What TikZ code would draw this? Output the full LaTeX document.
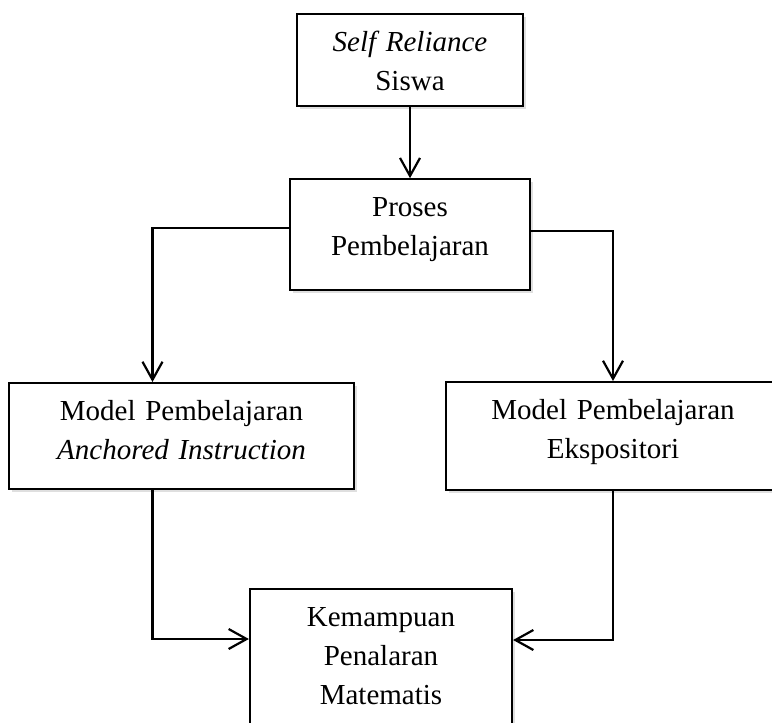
\documentclass[tikz,border=0pt]{standalone}
\usepackage{fontspec}
\setmainfont{Liberation Serif}
\usetikzlibrary{
	arrows.meta,
	positioning,
	shadows
}

\begin{document}
\begin{tikzpicture}[
				x=1pt, y=-1pt,
				stage/.style={
					rectangle, draw, line width=2.2pt, fill=white,
					drop shadow={shadow xshift=2.5pt, shadow yshift=-2.5pt, opacity=0.25},
					align=center, inner xsep=0pt, inner ysep=17pt,
					text height=20pt,
					font=\fontsize{29pt}{39pt}\selectfont
				},
				arrow/.style={-{Straight Barb[length=18pt, width=20pt]}, line width=2.2pt, black}
				]
				
				% page (right and lower boxes run off the edge)
				\clip (0,0) rectangle (772,723);
				\fill[white] (0,0) rectangle (772,723);
				
				% Self Reliance
				\node[stage, anchor=north, text width=226pt, text depth=38pt] (siswa) at (410,13)
					{\textit{Self Reliance}\\Siswa};
				
				% proses
				\node[stage, anchor=north, text width=240pt, text depth=57pt, below=71pt of siswa] (proses)
					{Proses\\Pembelajaran};
				
				% models
				\node[stage, anchor=north, text width=345pt, text depth=52pt] (anchored) at (181.5,382)
					{Model Pembelajaran\\\textit{Anchored Instruction}};
				\node[stage, anchor=north, text width=334pt, text depth=54pt] (ekspositori) at (613,381)
					{Model Pembelajaran\\Ekspositori};
				
				% result
				\node[stage, anchor=north, text width=262pt, text depth=103pt] (kemampuan) at (381,588)
					{Kemampuan\\Penalaran\\Matematis};
				
				% arrows
				\draw[arrow] (siswa.south) -- (siswa.south |- proses.north);
				\draw[arrow] ([yshift=6.5pt]proses.west) -| ([xshift=-29pt]anchored.north);
				\draw[arrow] ([yshift=3.5pt]proses.east) -| (ekspositori.north);
				\draw[arrow] ([xshift=-29pt]anchored.south) |- ([yshift=-51pt]kemampuan.north west);
				\draw[arrow] (ekspositori.south) |- ([yshift=-52pt]kemampuan.north east);
			\end{tikzpicture}
\end{document}
